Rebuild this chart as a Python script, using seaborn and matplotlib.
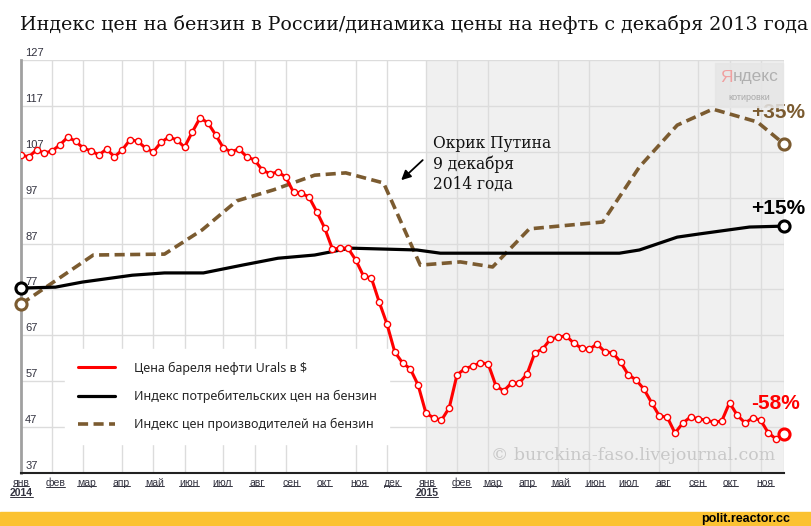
import pandas as pd
import numpy as np
import matplotlib.pyplot as plt
from matplotlib.lines import Line2D
from matplotlib.patches import Rectangle
from matplotlib.transforms import IdentityTransform, ScaledTranslation
import seaborn as sns

sns.set_style('white')
plt.rcParams['font.family'] = ['Liberation Sans', 'DejaVu Sans']

# нефть Urals, недельные точки
oil_dates = pd.date_range('2014-01-01', periods=99, freq='7D')
oil_values = [106.3, 105.9, 107.4, 106.7, 107.2, 108.5, 110.2, 109.3, 107.8, 107.2,
              106.3, 107.6, 105.9, 107.4, 109.6, 109.3, 107.8, 107.0, 109.1, 110.2,
              109.6, 108.0, 111.3, 114.4, 113.3, 110.7, 107.8, 107.0, 107.6, 105.9,
              105.2, 103.0, 102.2, 102.6, 101.5, 98.2, 98.0, 97.1, 93.9, 90.4,
              85.8, 86.0, 86.0, 83.4, 79.9, 79.5, 74.3, 69.5, 63.4, 61.0,
              59.7, 56.2, 50.1, 49.0, 48.5, 51.2, 58.4, 59.7, 60.3, 61.0,
              60.8, 56.0, 54.9, 56.6, 56.6, 58.6, 63.2, 64.0, 66.2, 66.6,
              66.9, 65.3, 64.2, 64.0, 65.1, 63.4, 63.2, 61.2, 58.4, 57.3,
              55.3, 52.3, 49.4, 49.2, 45.7, 47.9, 49.2, 48.8, 48.5, 48.1,
              48.3, 52.3, 49.6, 47.9, 49.0, 48.5, 45.7, 44.4, 45.5]

# индекс потребительских цен на бензин
cpi_dates = pd.to_datetime(['2014-01-01', '2014-02-01', '2014-02-25', '2014-04-11', '2014-05-10',
                            '2014-06-14', '2014-07-19', '2014-08-20', '2014-09-22', '2014-10-24',
                            '2014-12-23', '2015-01-13', '2015-01-31', '2015-06-23', '2015-07-11',
                            '2015-08-14', '2015-09-03', '2015-09-15', '2015-10-18', '2015-11-18'])
cpi_values = [77.3, 77.5, 78.6, 80.1, 80.6, 80.6, 82.3, 83.8, 84.5, 86.0,
              85.6, 84.9, 84.9, 84.9, 85.6, 88.4, 89.1, 89.5, 90.6, 90.8]

# индекс цен производителей на бензин
ppi_dates = pd.to_datetime(['2014-01-01', '2014-03-07', '2014-05-10', '2014-06-13', '2014-07-14',
                            '2014-08-16', '2014-09-22', '2014-10-20', '2014-11-23', '2014-12-26',
                            '2015-01-31', '2015-03-01', '2015-04-03', '2015-06-08', '2015-07-11',
                            '2015-08-14', '2015-09-15', '2015-10-25', '2015-11-18'])
ppi_values = [73.8, 84.5, 84.7, 90.0, 96.3, 98.7, 101.9, 102.4, 100.2, 82.3,
              83.0, 81.9, 90.2, 91.7, 103.7, 112.8, 116.3, 113.5, 108.7]

month_names = ['янв', 'фев', 'мар', 'апр', 'май', 'июн', 'июл', 'авг', 'сен', 'окт', 'ноя', 'дек',
               'янв', 'фев', 'мар', 'апр', 'май', 'июн', 'июл', 'авг', 'сен', 'окт', 'ноя']
years = ['2014', '2015']
y_ticks = [37, 47, 57, 67, 77, 87, 97, 107, 117, 127]
grid_weeks = [4, 8, 13, 17, 21, 26, 30, 34, 39, 43, 47, 52, 56, 60, 65, 69, 73, 78, 82, 87, 91, 95, 98]
legend_labels = ['Цена бареля нефти Urals в $',
                 'Индекс потребительских цен на бензин',
                 'Индекс цен производителей на бензин']

RED = '#ff0000'
BLACK = '#000000'
BROWN = '#7b5b30'
TXT = '#333340'
DASH = (0, (2.8, 1.5))

fig = plt.figure(figsize=(8.11, 5.26), dpi=100)
ax = fig.add_axes([21 / 811, 53 / 526, 763 / 811, 413 / 526])

# линии
sns.lineplot(x=ppi_dates, y=ppi_values, ax=ax, color=BROWN, lw=2.6, linestyle=DASH,
             errorbar=None, zorder=3)
sns.lineplot(x=cpi_dates, y=cpi_values, ax=ax, color=BLACK, lw=2.3, errorbar=None, zorder=4)
sns.lineplot(x=oil_dates, y=oil_values, ax=ax, color=RED, lw=2.2, marker='o', markersize=4.5,
             markerfacecolor='white', markeredgecolor=RED, markeredgewidth=1,
             errorbar=None, zorder=5)
ax.set_xlabel('')
ax.set_ylabel('')

x0, x1 = oil_dates[0], oil_dates[-1]
ax.set_xlim(x0, x1)
ax.set_ylim(37, 127)

# серая зона 2015 года
ax.axvspan(pd.Timestamp('2015-01-01'), x1, color='#f0f0f0', zorder=0.1, lw=0)

# сетка
ax.set_yticks(y_ticks)
ax.set_yticklabels([str(v) for v in y_ticks])
ax.yaxis.grid(True, color='#dcdcdc', lw=1)
ax.set_xticks(oil_dates[grid_weeks], minor=True)
ax.xaxis.grid(True, which='minor', color='#dcdcdc', lw=1)
month_dates = pd.date_range('2014-01-01', '2015-11-01', freq='MS')
ax.set_xticks(month_dates)
ax.set_xticklabels(month_names)
ax.xaxis.grid(False, which='major')
ax.set_axisbelow(True)

ax.tick_params(axis='x', which='both', length=0, pad=3.5, labelsize=7.5, labelcolor=TXT)
ax.tick_params(axis='y', length=0, pad=-3, labelsize=8, labelcolor=TXT)

for s in ['top', 'right']:
    ax.spines[s].set_visible(False)
ax.spines['left'].set_color('#a0a0a0')
ax.spines['left'].set_linewidth(2)
ax.spines['bottom'].set_color('#222222')
ax.spines['bottom'].set_linewidth(1.5)

# кружки на концах
ends = [(ppi_dates[0], ppi_values[0], BROWN), (cpi_dates[0], cpi_values[0], BLACK),
        (ppi_dates[-1], ppi_values[-1], BROWN), (cpi_dates[-1], cpi_values[-1], BLACK),
        (oil_dates[-1], oil_values[-1], RED)]
for d, v, c in ends:
    ax.plot([d], [v], 'o', ms=8, mfc='white', mec=c, mew=2.2, clip_on=False, zorder=6)

# подписи процентов
pct = [('+35%', ppi_dates[-1], ppi_values[-1], BROWN, 23),
       ('+15%', cpi_dates[-1], cpi_values[-1], BLACK, 13),
       ('-58%', oil_dates[-1], oil_values[-1], RED, 22)]
for t, d, v, c, dy in pct:
    ax.annotate(t, xy=(d, v), xytext=(-24, dy), textcoords='offset points', ha='left', va='center',
                fontsize=15, fontweight='bold', color=c, annotation_clip=False, zorder=7)

# Окрик Путина
ax.annotate('', xy=(pd.Timestamp('2014-12-07'), 100.4), xytext=(pd.Timestamp('2014-12-30'), 105.6),
            arrowprops=dict(arrowstyle='-|>', color='black', lw=1.3, mutation_scale=14))
ax.text(pd.Timestamp('2015-01-06'), 104.4, 'Окрик Путина\n9 декабря\n2014 года', ha='left', va='center',
        fontsize=11.2, family='DejaVu Serif', linespacing=1.25, color='#111111', zorder=7)

# легенда
handles = [Line2D([], [], color=RED, lw=2.2),
           Line2D([], [], color=BLACK, lw=2.3),
           Line2D([], [], color=BROWN, lw=2.6, linestyle=DASH)]
leg = ax.legend(handles, legend_labels, loc='upper left', bbox_to_anchor=(0.058, 0.30),
                frameon=True, facecolor='white', edgecolor='white', framealpha=1, fancybox=False,
                prop={'family': 'Noto Sans', 'size': 9}, handlelength=3.0, handletextpad=1.5,
                labelspacing=1.2, borderpad=1.0, borderaxespad=0)
leg.set_zorder(8)

# годы под январями
year_texts = []
for y, d in zip(years, [pd.Timestamp('2014-01-01'), pd.Timestamp('2015-01-01')]):
    t = ax.annotate(y, xy=(d, 0), xycoords=('data', 'axes fraction'), xytext=(0, -14.5),
                    textcoords='offset points', ha='center', va='center', fontsize=7.5,
                    fontweight='bold', color=TXT, annotation_clip=False)
    year_texts.append(t)

# заголовок
fig.text(20 / 811, 1 - 25 / 526, 'Индекс цен на бензин в России/динамика цены на нефть с декабря 2013 года',
         ha='left', va='center', fontsize=13.65, family='DejaVu Serif', color='#111111')

# водяной знак
fig.text(633 / 811, 1 - 456 / 526, '© burckina-faso.livejournal.com', ha='center', va='center',
         fontsize=12.5, family='DejaVu Serif', color='#c8c8c8')

# Яндекс котировки
fig.add_artist(Rectangle((715 / 811, 1 - 107 / 526), 68 / 811, 44 / 526, transform=fig.transFigure,
                         color='#e6e6e6', alpha=0.85, zorder=1))
fig.text(733 / 811, 1 - 77 / 526, 'Я', ha='right', va='center', fontsize=12.5, color='#f0a0a0', zorder=2)
fig.text(733 / 811, 1 - 77 / 526, 'ндекс', ha='left', va='center', fontsize=12.5, color='#b0b0b0', zorder=2)
fig.text(749 / 811, 1 - 97 / 526, 'котировки', ha='center', va='center', fontsize=6.5, color='#a8a8a8', zorder=2)

# жёлтая полоса
fig.add_artist(Rectangle((0, 0), 1, 14 / 526, transform=fig.transFigure, color='#fbc231', zorder=1))
fig.text(790 / 811, 7 / 526, 'polit.reactor.cc', ha='right', va='center', fontsize=9,
         fontweight='bold', color='black', zorder=2)

# подписи оси Y внутри, над линиями сетки
fig.canvas.draw()
shift = ScaledTranslation(0, 2 / 100, fig.dpi_scale_trans)
for lab in ax.get_yticklabels():
    lab.set_horizontalalignment('left')
    lab.set_verticalalignment('bottom')
    lab.set_transform(lab.get_transform() + shift)

# подчёркивание подписей оси
fig.canvas.draw()
r = fig.canvas.get_renderer()
for t in list(ax.get_xticklabels()) + year_texts:
    if not t.get_text():
        continue
    bb = t.get_window_extent(r)
    fig.add_artist(Line2D([bb.x0, bb.x1], [bb.y0 + 1.5, bb.y0 + 1.5], transform=IdentityTransform(),
                          color=TXT, lw=0.7))

plt.savefig('out.png', dpi=100)
